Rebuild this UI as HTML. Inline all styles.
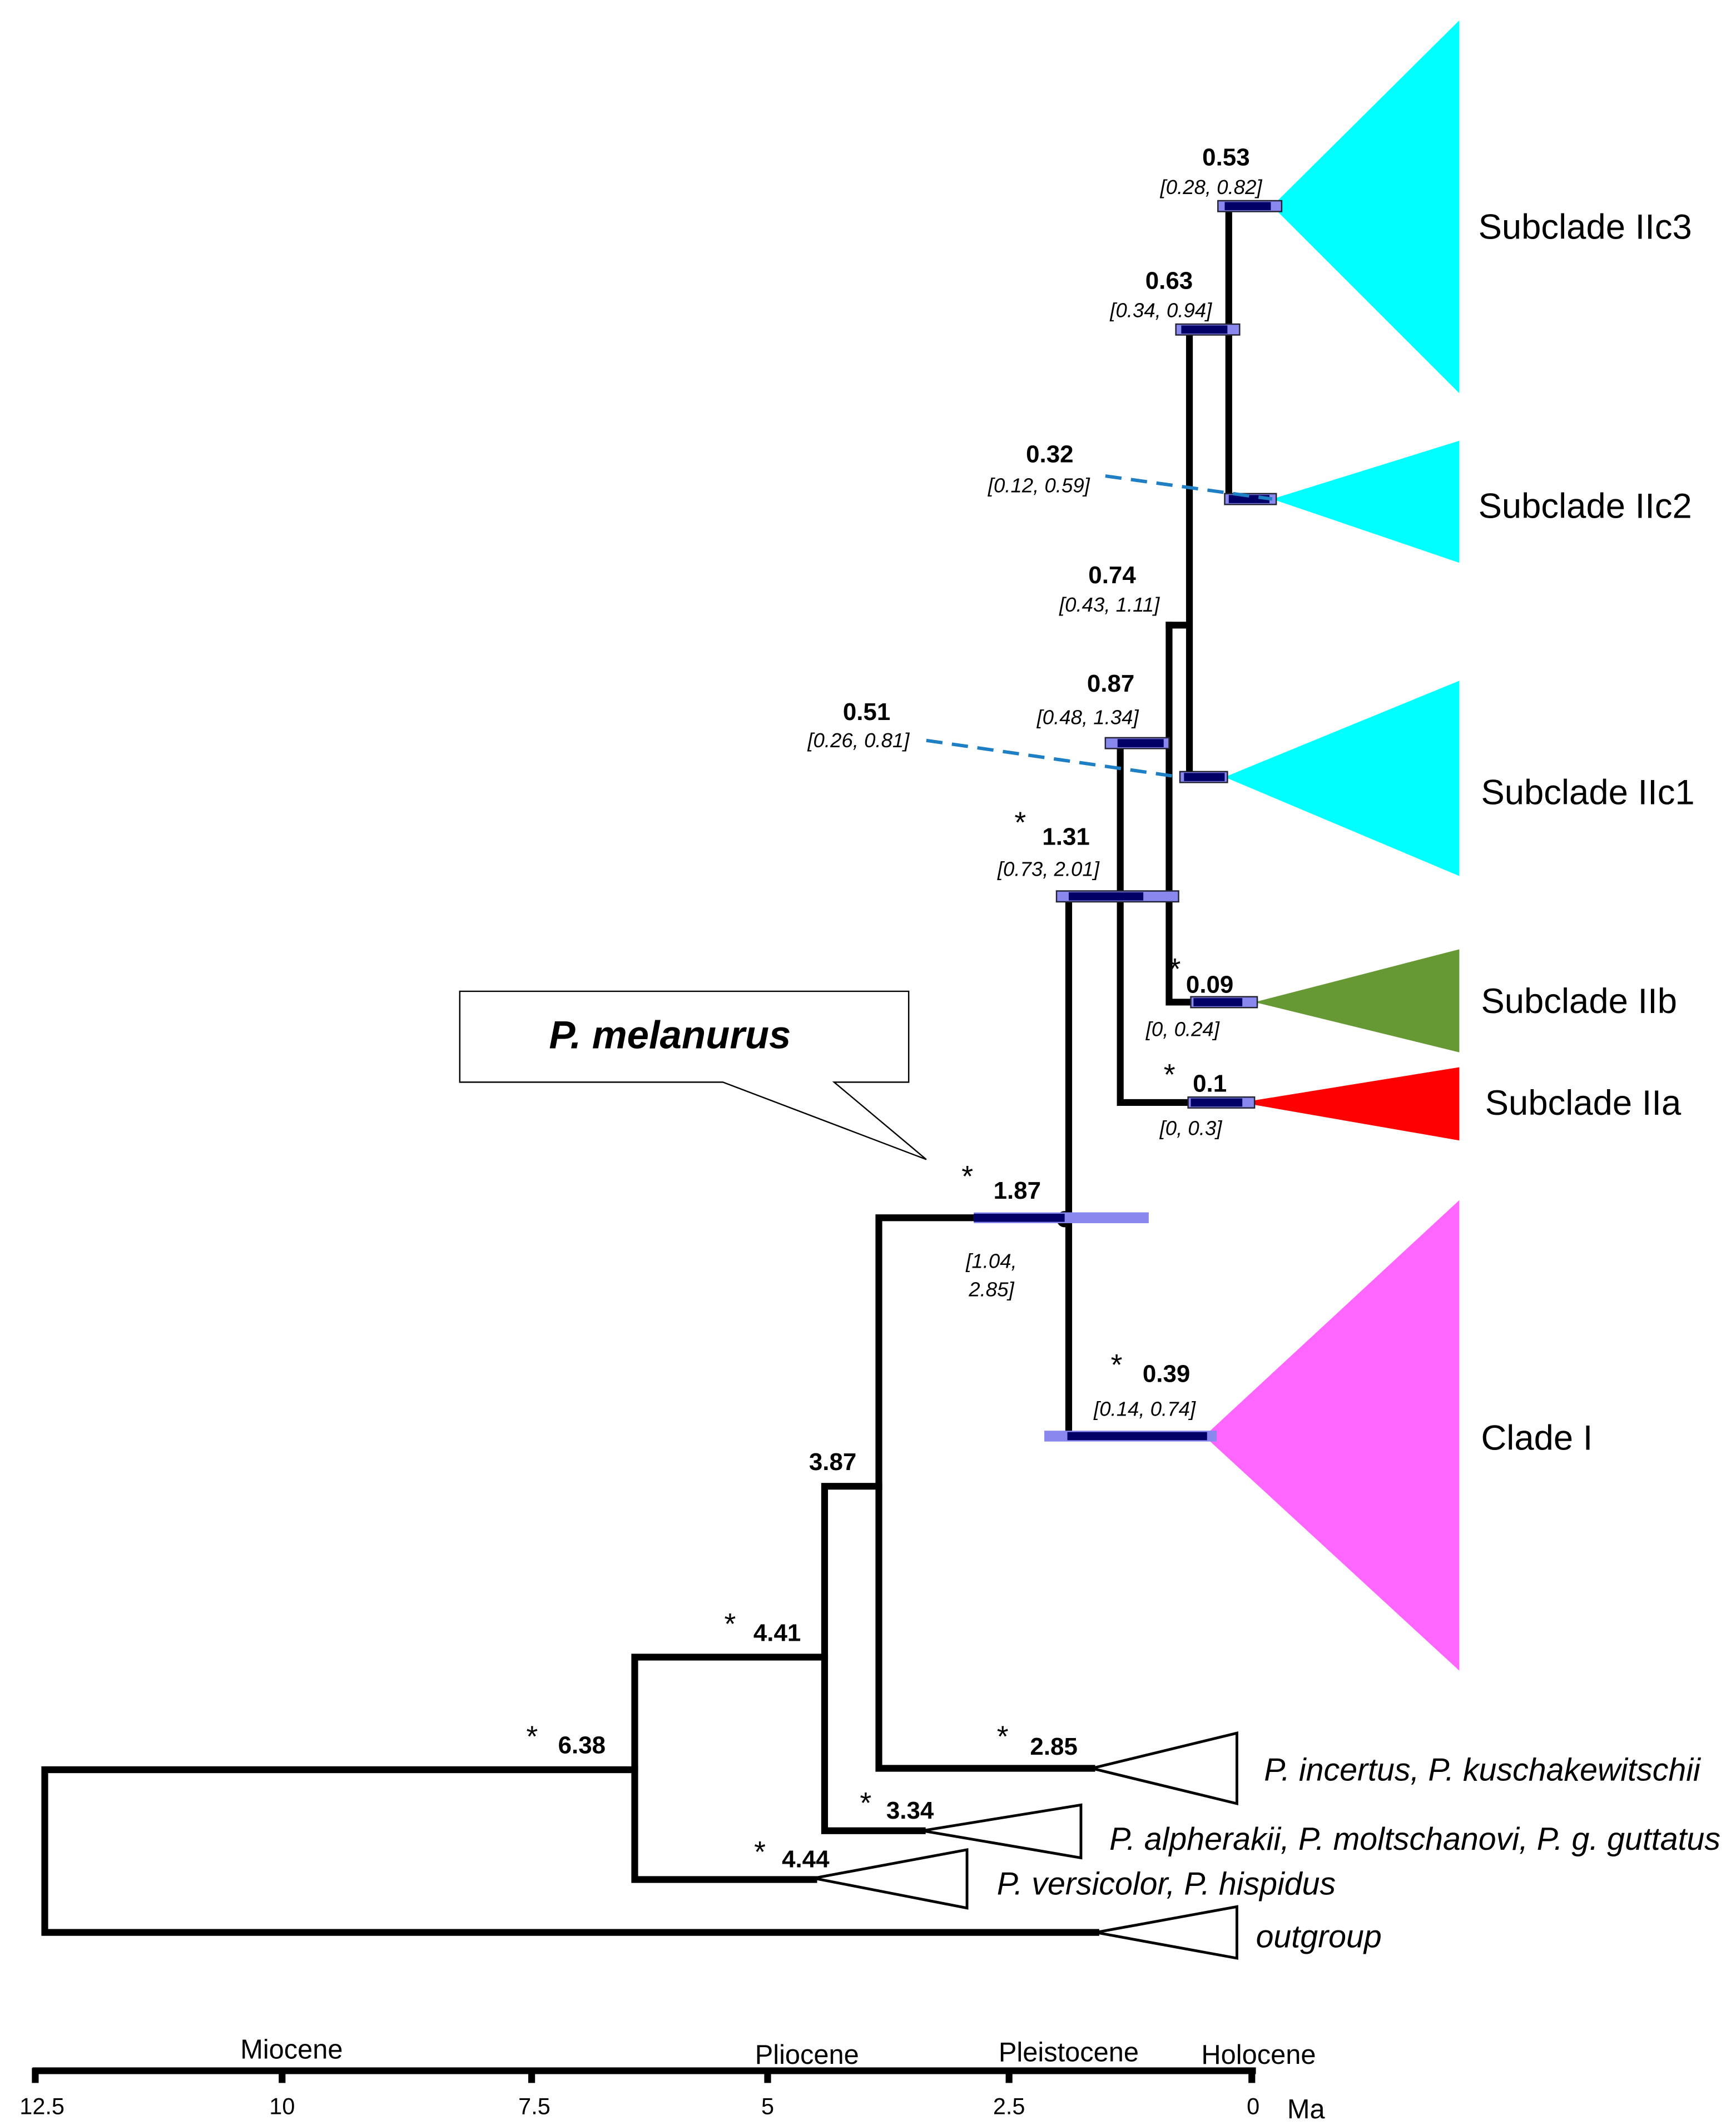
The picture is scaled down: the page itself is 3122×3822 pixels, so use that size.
<!DOCTYPE html>
<html><head><meta charset="utf-8"><style>
html,body{margin:0;padding:0;background:#fff;}
svg{display:block;}
text{font-family:"Liberation Sans",sans-serif;}
.v{font-weight:bold;font-size:18px;}
.i{font-style:italic;font-size:15px;}
.c{font-size:26px;}
.s{font-style:italic;font-size:23.5px;}
</style></head><body>
<svg width="3122" height="3822" viewBox="0 0 1280 1567" xmlns="http://www.w3.org/2000/svg">
<rect width="1280" height="1567" fill="#fff"/>
<polygon points="938,152 1076,15 1076,290" fill="#00ffff"/>
<polygon points="938,368 1076,325 1076,415" fill="#00ffff"/>
<polygon points="903,573 1076,502 1076,646" fill="#00ffff"/>
<polygon points="925,739 1076,700 1076,776" fill="#669933"/>
<polygon points="915,813 1076,787 1076,841" fill="#ff0000"/>
<polygon points="888,1059 1076,885 1076,1232" fill="#ff66ff"/>
<g fill="#fff" stroke="#000" stroke-width="2">
<polygon points="805,1304 912,1278 912,1330"/>
<polygon points="680,1350 797,1331 797,1370"/>
<polygon points="600,1385 713,1364 713,1407"/>
<polygon points="808,1425 912,1406 912,1444"/>
</g>
<g stroke="#000" stroke-width="5" fill="none" stroke-linecap="square">
<path d="M33,1305V1425M33,1305H468M33,1425H808"/>
<path d="M468,1222V1386M468,1222H608M468,1386H600"/>
<path d="M608,1096V1350M608,1096H648M608,1350H680"/>
<path d="M648,898V1304M648,898H785M648,1304H805"/>
<path d="M788,661V1059M788,1059H888"/>
<path d="M788,661H826M826,548V813M826,813H915"/>
<path d="M826,548H862M862,461V739M862,739H925"/>
<path d="M862,461H877M877,243V573M877,573H903"/>
<path d="M877,243H906M906,152V368M906,152H938M906,368H938"/>
</g>
<circle cx="785" cy="899" r="6" fill="#000"/>
<g stroke="#223" stroke-width="1">
<rect x="898" y="148" width="47" height="8" fill="#8888ee"/>
<rect x="867" y="239" width="47" height="8" fill="#8888ee"/>
<rect x="903" y="364" width="38" height="8" fill="#8888ee"/>
<rect x="870" y="569" width="35" height="8" fill="#8888ee"/>
<rect x="815" y="544" width="47" height="8" fill="#8888ee"/>
<rect x="779" y="657" width="90" height="8" fill="#8888ee"/>
<rect x="878" y="735" width="49" height="8" fill="#8888ee"/>
<rect x="876" y="809" width="49" height="8" fill="#8888ee"/>
</g>
<rect x="718" y="894" width="129" height="8" fill="#8888ee"/>
<rect x="770" y="1055" width="127" height="8" fill="#8888ee"/>
<g fill="#000066">
<rect x="903" y="149" width="34" height="6"/>
<rect x="871" y="240" width="34" height="6"/>
<rect x="906" y="365" width="30" height="6"/>
<rect x="873" y="570" width="30" height="6"/>
<rect x="824" y="545" width="34" height="6"/>
<rect x="788" y="658" width="55" height="6"/>
<rect x="880" y="736" width="36" height="6"/>
<rect x="878" y="810" width="38" height="6"/>
<rect x="718" y="895" width="67" height="6"/>
<rect x="787" y="1056" width="103" height="6"/>
</g>
<g stroke="#1f7fc4" stroke-width="2.5" stroke-dasharray="12,7">
<line x1="815" y1="351" x2="938" y2="368"/>
<line x1="683" y1="546" x2="870" y2="573"/>
</g>
<polygon points="339,731 670,731 670,798 615,798 683,855 533,798 339,798" fill="#fff" stroke="#000" stroke-width="1"/>
<text x="494" y="773" text-anchor="middle" style="font-weight:bold;font-style:italic;font-size:29px">P. melanurus</text>
<g text-anchor="middle">
<text class="v" x="904" y="122">0.53</text><text class="i" x="893" y="143">[0.28, 0.82]</text>
<text class="v" x="862" y="213">0.63</text><text class="i" x="856" y="234">[0.34, 0.94]</text>
<text class="v" x="774" y="341">0.32</text><text class="i" x="766" y="363">[0.12, 0.59]</text>
<text class="v" x="820" y="430">0.74</text><text class="i" x="818" y="451">[0.43, 1.11]</text>
<text class="v" x="819" y="510">0.87</text><text class="i" x="802" y="534">[0.48, 1.34]</text>
<text class="v" x="639" y="531">0.51</text><text class="i" x="633" y="551">[0.26, 0.81]</text>
<text class="v" x="786" y="623">1.31</text><text class="i" x="773" y="646">[0.73, 2.01]</text>
<text class="v" x="892" y="732">0.09</text><text class="i" x="872" y="764">[0, 0.24]</text>
<text class="v" x="892" y="805">0.1</text><text class="i" x="878" y="837">[0, 0.3]</text>
<text class="v" x="750" y="884">1.87</text><text class="i" x="731" y="935">[1.04,</text><text class="i" x="731" y="956">2.85]</text>
<text class="v" x="860" y="1019">0.39</text><text class="i" x="844" y="1044">[0.14, 0.74]</text>
<text class="v" x="614" y="1084">3.87</text>
<text class="v" x="573" y="1210">4.41</text>
<text class="v" x="429" y="1293">6.38</text>
<text class="v" x="777" y="1294">2.85</text>
<text class="v" x="671" y="1341">3.34</text>
<text class="v" x="594" y="1377">4.44</text>
</g>
<g style="font-size:22px">
<text x="748" y="614">*</text><text x="862" y="722">*</text><text x="858" y="800">*</text>
<text x="709" y="875">*</text><text x="819" y="1014">*</text><text x="534" y="1205">*</text>
<text x="388" y="1288">*</text><text x="735" y="1288">*</text><text x="634" y="1337">*</text><text x="556" y="1373">*</text>
</g>
<text class="c" x="1090" y="176">Subclade IIc3</text>
<text class="c" x="1090" y="382">Subclade IIc2</text>
<text class="c" x="1092" y="593">Subclade IIc1</text>
<text class="c" x="1092" y="747">Subclade IIb</text>
<text class="c" x="1095" y="822">Subclade IIa</text>
<text class="c" x="1092" y="1069">Clade I</text>
<text class="s" x="932" y="1313">P. incertus, P. kuschakewitschii</text>
<text class="s" x="818" y="1364">P. alpherakii, P. moltschanovi, P. g. guttatus</text>
<text class="s" x="735" y="1397">P. versicolor, P. hispidus</text>
<text class="s" x="926" y="1436">outgroup</text>
<g stroke="#000" stroke-width="5">
<line x1="24" y1="1527" x2="926" y2="1527"/>
<line x1="26" y1="1525" x2="26" y2="1536"/><line x1="208" y1="1525" x2="208" y2="1536"/>
<line x1="392" y1="1525" x2="392" y2="1536"/><line x1="566" y1="1525" x2="566" y2="1536"/>
<line x1="744" y1="1525" x2="744" y2="1536"/><line x1="923" y1="1525" x2="923" y2="1536"/>
</g>
<g text-anchor="middle">
<text x="215" y="1518" style="font-size:20px">Miocene</text>
<text x="595" y="1522" style="font-size:20px">Pliocene</text>
<text x="788" y="1520" style="font-size:20px">Pleistocene</text>
<text x="928" y="1522" style="font-size:20px">Holocene</text>
<text x="31" y="1559" style="font-size:17px">12.5</text>
<text x="208" y="1559" style="font-size:17px">10</text>
<text x="394" y="1559" style="font-size:17px">7.5</text>
<text x="566" y="1559" style="font-size:17px">5</text>
<text x="744" y="1559" style="font-size:17px">2.5</text>
<text x="924" y="1559" style="font-size:17px">0</text>
<text x="963" y="1562" style="font-size:20px">Ma</text>
</g>
</svg>
</body></html>
